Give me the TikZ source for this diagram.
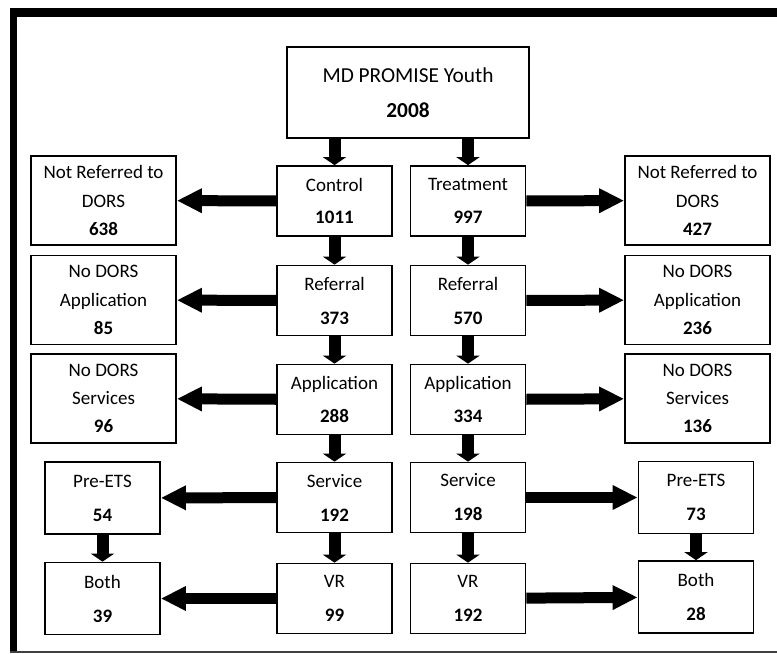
\documentclass[tikz,border=0pt]{standalone}
\usepackage{fontspec}
\setmainfont{Carlito}
\usepackage{tikz}
\usetikzlibrary{positioning,arrows.meta}

\begin{document}
\begin{tikzpicture}[x=0.75pt, y=-0.75pt,
    box/.style={draw, line width=1.3pt, align=center, inner sep=0pt,
                font=\fontsize{14.25}{17.1}\selectfont},
    midbox/.style={box, minimum width=86.25pt, minimum height=52.5pt},
    sidebox/.style={box, minimum width=108.75pt, minimum height=66.75pt},
    smallbox/.style={box, minimum width=86.25pt, minimum height=54pt},
    harr/.style={-{Triangle[length=18.75pt, width=17.25pt]}, line width=8.25pt},
    varr/.style={-{Triangle[length=6pt, width=17.25pt]}, line width=9pt}]
  \useasboundingbox (0,0) rectangle (777,653);
  % frame
  \fill (10,8) rectangle (777,17);
  \fill (10,8) rectangle (17,653);
  \draw[black!75, line width=1.2pt] (10,652) -- (777,652);
  % top
  \node[box, minimum width=181.5pt, minimum height=68.25pt,
        font=\fontsize{16}{19.2}\selectfont] (youth) at (408,92.5)
    {MD PROMISE Youth\\[7.5pt]\textbf{2008}};
  % control column
  \node[midbox] (control) at (334.5,201) {Control\\[7.5pt]\textbf{1011}};
  \node[midbox] (referralC) at (334.5,300.5) {Referral\\[8.4pt]\textbf{373}};
  \node[midbox] (applC) at (334.5,399.5) {Application\\[8pt]\textbf{288}};
  \node[midbox] (serviceC) at (334.5,497.5) {Service\\[8.4pt]\textbf{192}};
  \node[midbox] (vrC) at (334.5,598.5) {VR\\[8.4pt]\textbf{99}};
  % treatment column
  \node[midbox] (treatment) at (468,201) {Treatment\\[7.5pt]\textbf{997}};
  \node[midbox] (referralT) at (468,300.5) {Referral\\[8.4pt]\textbf{570}};
  \node[midbox] (applT) at (468,399.5) {Application\\[8pt]\textbf{334}};
  \node[midbox] (serviceT) at (468,497.5) {Service\\[8.4pt]\textbf{198}};
  \node[midbox] (vrT) at (468,598.5) {VR\\[8.4pt]\textbf{192}};
  % left side
  \node[sidebox] (nrefC) at (103.5,200.5) {Not Referred to\\[4pt]DORS\\[4pt]\textbf{638}};
  \node[sidebox] (nappC) at (103.5,300) {No DORS\\[4pt]Application\\[4pt]\textbf{85}};
  \node[sidebox] (nservC) at (103.5,398.5) {No DORS\\[4pt]Services\\[4pt]\textbf{96}};
  \node[smallbox] (pretsC) at (102.5,498) {Pre-ETS\\[8.4pt]\textbf{54}};
  \node[smallbox] (bothC) at (102.5,598.5) {Both\\[8.4pt]\textbf{39}};
  % right side
  \node[sidebox] (nrefT) at (697.5,200.5) {Not Referred to\\[4pt]DORS\\[4pt]\textbf{427}};
  \node[sidebox] (nappT) at (697.5,300) {No DORS\\[4pt]Application\\[4pt]\textbf{236}};
  \node[sidebox] (nservT) at (697.5,398.5) {No DORS\\[4pt]Services\\[4pt]\textbf{136}};
  \node[smallbox] (pretsT) at (696,497.5) {Pre-ETS\\[8.4pt]\textbf{73}};
  \node[smallbox] (bothT) at (696,597) {Both\\[8.4pt]\textbf{28}};
  % down arrows
  \draw[varr] (control |- youth.south) -- (control);
  \draw[varr] (treatment |- youth.south) -- (treatment);
  \draw[varr] (control) -- (referralC);
  \draw[varr] (referralC) -- (applC);
  \draw[varr] (applC) -- (serviceC);
  \draw[varr] (serviceC) -- (vrC);
  \draw[varr] (treatment) -- (referralT);
  \draw[varr] (referralT) -- (applT);
  \draw[varr] (applT) -- (serviceT);
  \draw[varr] (serviceT) -- (vrT);
  \draw[varr] (pretsC) -- (bothC);
  \draw[varr] (pretsT) -- (bothT);
  % side arrows
  \draw[harr] (control) -- (nrefC);
  \draw[harr] (referralC) -- (nappC);
  \draw[harr] (applC) -- (nservC);
  \draw[harr] (serviceC) -- (pretsC);
  \draw[harr] (vrC) -- (bothC);
  \draw[harr] (treatment) -- (nrefT);
  \draw[harr] (referralT) -- (nappT);
  \draw[harr] (applT) -- (nservT);
  \draw[harr] (serviceT) -- (pretsT);
  \draw[harr] (vrT) -- (bothT);
\end{tikzpicture}
\end{document}
